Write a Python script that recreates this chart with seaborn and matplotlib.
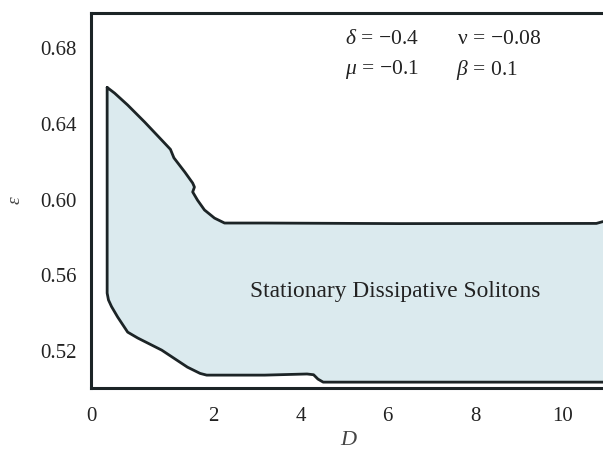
import matplotlib
matplotlib.use("Agg")
import matplotlib.pyplot as plt
import seaborn as sns
import numpy as np
import pandas as pd

# ---- data ----
upper_D = [-0.43, -0.26, 0.04, 0.43, 0.82, 1.02, 1.10, 1.35, 1.53, 1.57, 1.53, 1.64, 1.80, 2.03, 2.26, 3.18, 6.27, 10.78, 10.92, 11.3]
upper_eps = [0.6592, 0.6562, 0.6499, 0.6409, 0.6314, 0.6265, 0.6220, 0.6145, 0.6087, 0.6066, 0.6040, 0.5997, 0.5945, 0.5902, 0.5876, 0.5876, 0.5873, 0.5874, 0.5883, 0.5890]
lower_D = [-0.43, -0.40, -0.33, -0.19, 0.04, 0.27, 0.82, 1.41, 1.70, 1.85, 3.18, 4.15, 4.30, 4.40, 4.52, 6.27, 10.92, 11.3]
lower_eps = [0.5506, 0.5470, 0.5435, 0.5380, 0.5300, 0.5269, 0.5205, 0.5115, 0.5082, 0.5073, 0.5073, 0.5079, 0.5075, 0.5052, 0.5036, 0.5036, 0.5036, 0.5036]

x_ticks = [2, 4, 6, 8, 10]
x_tick_labels = ["0", "2", "4", "6", "8", "10"]
y_ticks = [0.52, 0.56, 0.60, 0.64, 0.68]
y_tick_labels = ["0.52", "0.56", "0.60", "0.64", "0.68"]
region_label = "Stationary Dissipative Solitons"
params = [r"$\delta\,=\,{-}0.4$", r"$\mathrm{\nu}\,=\,{-}0.08$", r"$\mu\,=\,{-}0.1$", r"$\beta\,=\,0.1$"]

sns.set_theme(style="white")
plt.rcParams["font.family"] = ["Liberation Serif", "DejaVu Serif"]
plt.rcParams["mathtext.fontset"] = "custom"
plt.rcParams["mathtext.rm"] = "Liberation Serif"
plt.rcParams["mathtext.it"] = "Liberation Serif:italic"

fig = plt.figure(figsize=(6.03, 4.5), dpi=100)
ax = fig.add_axes([91 / 603, 1 - 388 / 450, 515 / 603, 375 / 450])

xmin, xmax = -0.8, 11.0
ax.set_xlim(xmin, xmax)
ax.set_ylim(0.5005, 0.6985)

# polygon: upper boundary left->right, lower boundary right->left, close
poly_D = upper_D + lower_D[::-1] + [upper_D[0]]
poly_eps = upper_eps + lower_eps[::-1] + [upper_eps[0]]
ax.fill(poly_D, poly_eps, color="#dbeaee", zorder=1, lw=0)
df = pd.DataFrame({"D": poly_D, "eps": poly_eps, "order": np.arange(len(poly_D))})
sns.lineplot(data=df, x="D", y="eps", sort=False, estimator=None, color="#1c2426",
             lw=2.0, ax=ax, zorder=2)
ax.lines[-1].set_solid_joinstyle("round")

ax.set_xticks([xmin] + x_ticks)
ax.set_xticklabels(x_tick_labels)
ax.set_yticks(y_ticks)
ax.set_yticklabels(y_tick_labels)
ax.tick_params(axis="both", length=0, labelsize=15, colors="#222222")
ax.tick_params(axis="x", pad=14)
ax.tick_params(axis="y", pad=10)

for side in ["left", "top", "bottom", "right"]:
    ax.spines[side].set_color("#1c2426")
    ax.spines[side].set_linewidth(2.2)

ax.set_xlabel(r"$D$", fontsize=16, color="#444444", labelpad=3)
ax.set_ylabel(r"$\varepsilon$", fontsize=14, color="#444444", labelpad=12)

ax.text(6.18, 0.5512, region_label, fontsize=16.8, ha="center", va="center", color="#222222")

px = lambda p: xmin + (p - 91) / 515 * (xmax - xmin)
ax.text(px(345), 0.6844, params[0], fontsize=15.5, ha="left", va="center", color="#222222")
ax.text(px(457), 0.6844, params[1], fontsize=15.5, ha="left", va="center", color="#222222")
ax.text(px(345), 0.6685, params[2], fontsize=15.5, ha="left", va="center", color="#222222")
ax.text(px(456), 0.6685, params[3], fontsize=15.5, ha="left", va="center", color="#222222")

fig.savefig("out.png", dpi=100)
